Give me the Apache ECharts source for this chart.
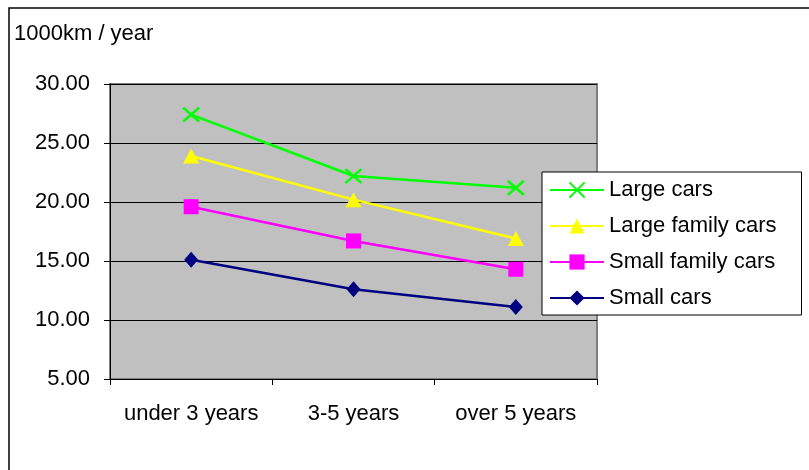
<!DOCTYPE html>
<html>
<head>
<meta charset="utf-8">
<script src="https://cdn.jsdelivr.net/npm/echarts@6/dist/echarts.min.js"></script>
<style>
  html, body { margin: 0; padding: 0; background: #fff; }
  #chart { width: 809px; height: 470px; }
</style>
</head>
<body>
<div id="chart"></div>
<script>
// Average annual distance driven, by car age and car class
const categories = ['under 3 years', '3-5 years', 'over 5 years'];
const largeCars = [27.4, 22.2, 21.2];
const largeFamilyCars = [23.9, 20.2, 16.9];
const smallFamilyCars = [19.6, 16.7, 14.3];
const smallCars = [15.1, 12.6, 11.1];
const yTicks = { min: 5, max: 30, step: 5 };
const unitLabel = '1000km / year';

const FONT = '"Liberation Sans", Arial, sans-serif';
const FONT_SIZE = 22;
const crossPath = 'path://M0,0L10,10M10,0L0,10';

function lineSeries(name, data, color, symbol, size, extra) {
  return Object.assign({
    name: name,
    type: 'line',
    data: data,
    symbol: symbol,
    symbolSize: size,
    showAllSymbol: true,
    lineStyle: { color: color, width: 2.5 },
    itemStyle: { color: color },
    emphasis: { disabled: true },
    animation: false
  }, extra || {});
}

const chart = echarts.init(document.getElementById('chart'), null, { renderer: 'canvas' });
chart.setOption({
  backgroundColor: '#ffffff',
  textStyle: { fontFamily: FONT },
  grid: {
    left: 110, right: 212, top: 84, bottom: 91,
    show: true,
    backgroundColor: '#c0c0c0',
    borderColor: '#808080',
    borderWidth: 2
  },
  legend: {
    orient: 'vertical',
    left: 542,
    top: 172,
    padding: [6, 25, 5, 7],
    backgroundColor: '#ffffff',
    borderColor: '#000000',
    borderWidth: 1,
    itemWidth: 54,
    itemHeight: 19,
    itemGap: 12,
    textStyle: { fontFamily: FONT, fontSize: FONT_SIZE, color: '#000', lineHeight: 24, padding: [0, 0, 0, 0] },
    data: ['Large cars', 'Large family cars', 'Small family cars', 'Small cars']
  },
  xAxis: {
    type: 'category',
    data: categories,
    boundaryGap: true,
    axisLine: { lineStyle: { color: '#000', width: 1 } },
    axisTick: { show: true, length: 6, inside: false, interval: 0, lineStyle: { color: '#000' } },
    axisLabel: { color: '#000', fontSize: FONT_SIZE, fontFamily: FONT, margin: 24, interval: 0 },
    splitLine: { show: false }
  },
  yAxis: {
    type: 'value',
    min: yTicks.min,
    max: yTicks.max,
    interval: yTicks.step,
    axisLine: { show: true, lineStyle: { color: '#000', width: 1 } },
    axisTick: { show: true, length: 6, inside: false, lineStyle: { color: '#000' } },
    axisLabel: {
      color: '#000', fontSize: FONT_SIZE, fontFamily: FONT, margin: 20,
      formatter: v => v.toFixed(2)
    },
    splitLine: { show: true, lineStyle: { color: '#000', width: 1 } }
  },
  graphic: [
    {
      type: 'rect',
      shape: { x: 9, y: 8, width: 900, height: 600 },
      style: { fill: 'none', stroke: '#000', lineWidth: 1.5 },
      silent: true,
      z: 100
    },
    {
      type: 'text',
      left: 14,
      top: 23,
      style: { text: unitLabel, fontFamily: FONT, fontSize: FONT_SIZE, fill: '#000' }
    }
  ],
  series: [
    lineSeries('Small cars', smallCars, '#000080', 'diamond', [14, 16]),
    lineSeries('Small family cars', smallFamilyCars, '#ff00ff', 'rect', 15),
    lineSeries('Large family cars', largeFamilyCars, '#ffff00', 'triangle', [16, 15]),
    lineSeries('Large cars', largeCars, '#00ff00', crossPath, [16, 14], {
      itemStyle: { color: '#00ff00', borderColor: '#00ff00', borderWidth: 2.5 }
    })
  ]
});
</script>
</body>
</html>
